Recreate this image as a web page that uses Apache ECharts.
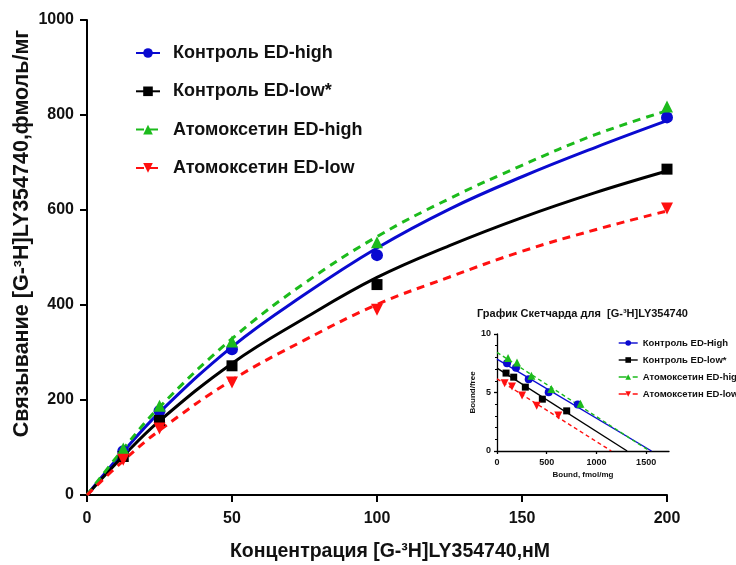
<!DOCTYPE html>
<html>
<head>
<meta charset="utf-8">
<script src="https://cdn.jsdelivr.net/npm/echarts@6/dist/echarts.min.js"></script>
<style>
  html, body { margin: 0; padding: 0; background: #fff; }
  #chart { width: 736px; height: 565px; }
</style>
</head>
<body>
<div id="chart"></div>
<script>
// названия серий
var names = ["Контроль ED-high", "Контроль ED-low*", "Атомоксетин ED-high", "Атомоксетин ED-low"];
var insetNames = ["Контроль ED-High", "Контроль ED-low*", "Атомоксетин ED-high", "Атомоксетин ED-low"];

// концентрация, нМ (точки)
var conc = [12.5, 25, 50, 100, 200];
var ctrlHigh = [92, 177, 307, 505, 795];
var ctrlLow = [81, 157, 272, 443, 686];
var atoHigh = [98, 188, 323, 532, 818];
var atoLow = [74, 140, 237, 390, 603];

// кривые аппроксимации
var fitConc = [0, 12.5, 25, 50, 75, 100, 125, 150, 175, 200];
var fitCtrlHigh = [0, 91, 174, 312, 422, 520, 602, 670, 731, 788];
var fitCtrlLow = [0, 82, 156, 277, 372, 458, 525, 584, 636, 682];
var fitAtoHigh = [0, 97, 185, 329, 446, 544, 624, 694, 758, 809];
var fitAtoLow = [0, 72, 136, 242, 326, 401, 459, 513, 558, 598];

// график Скетчарда: bound, fmol/mg и bound/free
var bndCtrlHigh = [101, 191, 319, 520, 812];
var bfCtrlHigh = [7.49, 7.11, 6.14, 5.03, 3.97];
var bndCtrlLow = [91, 168, 285, 456, 701];
var bfCtrlLow = [6.66, 6.31, 5.46, 4.43, 3.43];
var bndAtoHigh = [111, 201, 346, 547, 839];
var bfAtoHigh = [7.94, 7.57, 6.43, 5.29, 4.03];
var bndAtoLow = [77, 151, 252, 399, 617];
var bfAtoLow = [5.80, 5.51, 4.74, 3.86, 3.03];

// линии регрессии: [пересечение с осью Y, пересечение с осью X]
var regCtrlHigh = [7.86, 1554];
var regCtrlLow = [7.09, 1309];
var regAtoHigh = [8.43, 1535];
var regAtoLow = [6.17, 1150];

var mainXTicks = [0, 50, 100, 150, 200];
var insetXTicks = [0, 500, 1000, 1500];
var insetYTicks = [0, 5, 10];

function pairs(xs, ys) {
  return xs.map(function (x, i) { return [x, ys[i]]; });
}
function plain(v) { return String(v); }

var font = "Liberation Sans, Arial, sans-serif";
var colors = ["#0a0ad0", "#000000", "#1cbb1c", "#ff1010"];
var symbols = ["circle", "rect", "triangle", "triangle"];
var rotates = [0, 0, 0, 180];
var dashes = ["solid", "solid", [8, 6], [8, 6]];
var sizes = [12, 11, 12, 12];

var fits = [fitCtrlHigh, fitCtrlLow, fitAtoHigh, fitAtoLow];
var points = [ctrlHigh, ctrlLow, atoHigh, atoLow];
var bnds = [bndCtrlHigh, bndCtrlLow, bndAtoHigh, bndAtoLow];
var bfs = [bfCtrlHigh, bfCtrlLow, bfAtoHigh, bfAtoLow];
var regs = [regCtrlHigh, regCtrlLow, regAtoHigh, regAtoLow];

var series = [];
// основные кривые
for (var i = 0; i < 4; i++) {
  series.push({
    name: names[i],
    type: "line",
    xAxisIndex: 0,
    yAxisIndex: 0,
    smooth: 0.4,
    showSymbol: false,
    symbol: symbols[i],
    symbolRotate: rotates[i],
    lineStyle: { color: colors[i], width: 3, type: dashes[i] },
    itemStyle: { color: colors[i] },
    data: pairs(fitConc, fits[i]),
    z: 2
  });
}
for (var i = 0; i < 4; i++) {
  series.push({
    name: names[i],
    type: "scatter",
    xAxisIndex: 0,
    yAxisIndex: 0,
    symbol: symbols[i],
    symbolRotate: rotates[i],
    symbolSize: sizes[i],
    itemStyle: { color: colors[i], opacity: 1 },
    data: pairs(conc, points[i]),
    z: 3
  });
}
// вставка Скетчарда
for (var i = 0; i < 4; i++) {
  series.push({
    name: insetNames[i],
    type: "line",
    xAxisIndex: 1,
    yAxisIndex: 1,
    showSymbol: false,
    symbol: symbols[i],
    symbolRotate: rotates[i],
    lineStyle: { color: colors[i], width: 1.4, type: i > 1 ? [4, 3] : "solid" },
    itemStyle: { color: colors[i] },
    data: [[0, regs[i][0]], [regs[i][1], 0]],
    z: 2
  });
}
for (var i = 0; i < 4; i++) {
  series.push({
    name: insetNames[i],
    type: "scatter",
    xAxisIndex: 1,
    yAxisIndex: 1,
    symbol: symbols[i],
    symbolRotate: rotates[i],
    symbolSize: i == 1 ? 7 : 8,
    itemStyle: { color: colors[i], opacity: 1 },
    data: pairs(bnds[i], bfs[i]),
    z: 3
  });
}

var chart = echarts.init(document.getElementById("chart"));
var option = {
  animation: false,
  textStyle: { fontFamily: font },
  title: {
    text: "График Скетчарда для  [G-³H]LY354740",
    left: 477,
    top: 308,
    padding: 0,
    textStyle: { fontSize: 11, fontWeight: "bold", color: "#111", fontFamily: font }
  },
  legend: [
    {
      data: names,
      orient: "vertical",
      left: 135,
      top: 44,
      padding: 0,
      itemWidth: 24,
      itemHeight: 12,
      itemGap: 20.3,
      textStyle: { fontSize: 18, fontWeight: "bold", color: "#111", fontFamily: font, padding: [0, 0, 0, 8] }
    },
    {
      data: insetNames,
      orient: "vertical",
      left: 618,
      top: 338,
      padding: 0,
      itemWidth: 19,
      itemHeight: 7,
      itemGap: 7,
      lineStyle: { width: 1.4 },
      textStyle: { fontSize: 9.5, fontWeight: "bold", color: "#111", fontFamily: font }
    }
  ],
  grid: [
    { left: 87, top: 20, width: 580, height: 475, outerBoundsMode: "none" },
    { left: 497, top: 334, width: 172, height: 117, outerBoundsMode: "none" }
  ],
  xAxis: [
    {
      type: "value",
      gridIndex: 0,
      min: 0,
      max: 200,
      interval: 50,
      name: "Концентрация [G-³H]LY354740,нМ",
      nameLocation: "middle",
      nameGap: 47,
      nameMoveOverlap: false,
      nameTextStyle: { fontSize: 19.5, fontWeight: "bold", color: "#111", fontFamily: font, padding: [0, 0, 0, 26] },
      axisLine: { lineStyle: { color: "#000", width: 2 } },
      axisTick: { length: 7, lineStyle: { width: 2 }, customValues: mainXTicks },
      axisLabel: { fontSize: 16, fontWeight: "bold", color: "#111", margin: 16, customValues: mainXTicks, formatter: plain },
      splitLine: { show: false }
    },
    {
      type: "value",
      gridIndex: 1,
      min: 0,
      max: 1730,
      name: "Bound, fmol/mg",
      nameLocation: "middle",
      nameGap: 20,
      nameTextStyle: { fontSize: 8, fontWeight: "bold", color: "#111", fontFamily: font },
      axisLine: { lineStyle: { color: "#000", width: 1.3 } },
      axisTick: { length: 3, lineStyle: { width: 1.3 }, customValues: insetXTicks },
      axisLabel: { fontSize: 9, fontWeight: "bold", color: "#111", margin: 7, customValues: insetXTicks, formatter: plain },
      splitLine: { show: false }
    }
  ],
  yAxis: [
    {
      type: "value",
      gridIndex: 0,
      min: 0,
      max: 1000,
      interval: 200,
      name: "Связывание [G-³H]LY354740,фмоль/мг",
      nameLocation: "middle",
      nameGap: 54,
      nameMoveOverlap: false,
      nameRotate: 90,
      nameTextStyle: { fontSize: 21.5, fontWeight: "bold", color: "#111", fontFamily: font, padding: [0, 0, 0, 48] },
      axisLine: { lineStyle: { color: "#000", width: 2 } },
      axisTick: { length: 7, lineStyle: { width: 2 } },
      axisLabel: { fontSize: 16, fontWeight: "bold", color: "#111", margin: 13, formatter: plain },
      splitLine: { show: false }
    },
    {
      type: "value",
      gridIndex: 1,
      min: 0,
      max: 10,
      interval: 5,
      name: "Bound/free",
      nameLocation: "middle",
      nameGap: 17,
      nameRotate: 90,
      nameTextStyle: { fontSize: 8, fontWeight: "bold", color: "#111", fontFamily: font },
      axisLine: { lineStyle: { color: "#000", width: 1.3 } },
      axisTick: { length: 3, lineStyle: { width: 1.3 } },
      minorTick: { show: true, splitNumber: 5, length: 2, lineStyle: { color: "#000", width: 1 } },
      axisLabel: { fontSize: 9, fontWeight: "bold", color: "#111", margin: 6, customValues: insetYTicks },
      splitLine: { show: false }
    }
  ],
  series: series
};
chart.setOption(option);
</script>
</body>
</html>
